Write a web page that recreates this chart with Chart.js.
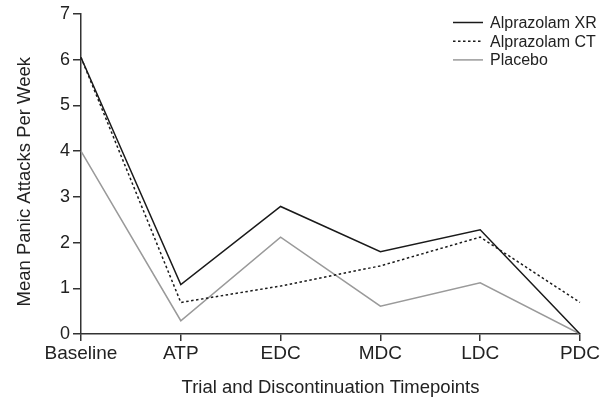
<!DOCTYPE html>
<html>
<head>
<meta charset="utf-8">
<script src="https://cdn.jsdelivr.net/npm/chart.js@4/dist/chart.umd.min.js"></script>
<style>
  html, body { margin: 0; padding: 0; background: #fff; }
  #wrap { width: 610px; height: 400px; }
</style>
</head>
<body>
<div id="wrap"><canvas id="chart"></canvas></div>
<script>
// timepoints along the x axis
const timepoints = ["Baseline", "ATP", "EDC", "MDC", "LDC", "PDC"];
// mean panic attacks per week
const xrValues = [6.05, 1.08, 2.79, 1.8, 2.28, 0];
const ctValues = [6.05, 0.69, 1.05, 1.49, 2.12, 0.69];
const placeboValues = [4.0, 0.29, 2.12, 0.61, 1.12, 0];
const yTicks = [0, 1, 2, 3, 4, 5, 6, 7];

const fontFamily = "'Liberation Sans', Arial, Helvetica, sans-serif";
const textColor = "#222";

//draws the legend as short line samples in the top right corner of the chart area
const lineLegend = {
  id: "lineLegend",
  afterDraw: (chart) => {
    const ctx = chart.ctx;
    ctx.save();
    ctx.font = `16px ${fontFamily}`;
    ctx.textBaseline = "middle";
    ctx.fillStyle = textColor;
    chart.data.datasets.forEach((ds, i) => {
      const y = 22.5 + i * 18.7;
      ctx.strokeStyle = ds.borderColor;
      ctx.lineWidth = ds.borderWidth;
      ctx.setLineDash(ds.borderDash || []);
      ctx.beginPath();
      ctx.moveTo(453, y);
      ctx.lineTo(483, y);
      ctx.stroke();
      ctx.setLineDash([]);
      ctx.fillText(ds.label, 490, y + 1);
    });
    ctx.restore();
  },
};

const ctx = document.getElementById("chart").getContext("2d");
new Chart(ctx, {
  type: "line",
  data: {
    labels: timepoints,
    datasets: [
      {
        label: "Alprazolam XR",
        data: xrValues,
        borderColor: "#1a1a1a",
        borderWidth: 1.5,
        pointRadius: 0,
        tension: 0,
      },
      {
        label: "Alprazolam CT",
        data: ctValues,
        borderColor: "#1a1a1a",
        borderWidth: 1.5,
        borderDash: [2.5, 2.5],
        pointRadius: 0,
        tension: 0,
      },
      {
        label: "Placebo",
        data: placeboValues,
        borderColor: "#9a9a9a",
        borderWidth: 1.5,
        pointRadius: 0,
        tension: 0,
      },
    ],
  },
  options: {
    responsive: true,
    maintainAspectRatio: false,
    animation: false,
    layout: { padding: { top: 14, right: 30, left: 0, bottom: 0 } },
    plugins: {
      legend: { display: false },
      tooltip: { enabled: false },
    },
    scales: {
      x: {
        offset: false,
        grid: {
          display: true,
          drawOnChartArea: false,
          drawTicks: true,
          tickLength: 7,
          color: "#333",
          lineWidth: 1.5,
        },
        border: { color: "#333", width: 1.5 },
        ticks: {
          color: textColor,
          font: { family: fontFamily, size: 19 },
          padding: 1,
          maxRotation: 0,
        },
        title: {
          display: true,
          text: "Trial and Discontinuation Timepoints",
          color: textColor,
          font: { family: fontFamily, size: 18.5 },
          padding: { top: 0, bottom: 1 },
        },
        afterFit: (scale) => {
          scale.height = 66;
        },
      },
      y: {
        min: 0,
        max: 7,
        afterBuildTicks: (scale) => {
          scale.ticks = yTicks.map((v) => ({ value: v }));
        },
        grid: {
          display: true,
          drawOnChartArea: false,
          drawTicks: true,
          tickLength: 8,
          color: "#333",
          lineWidth: 1.5,
        },
        border: { color: "#333", width: 1.5 },
        ticks: {
          color: textColor,
          font: { family: fontFamily, size: 18 },
          padding: 3,
        },
        title: {
          display: true,
          text: "Mean Panic Attacks Per Week   ",
          color: textColor,
          font: { family: fontFamily, size: 18.5 },
          padding: { top: 14, bottom: 0 },
        },
        afterFit: (scale) => {
          scale.width = 81;
        },
      },
    },
  },
  plugins: [lineLegend],
});
</script>
</body>
</html>
